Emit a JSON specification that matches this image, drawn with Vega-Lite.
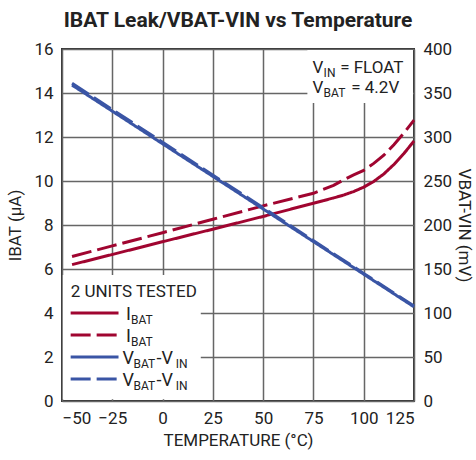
{
  "$schema": "https://vega.github.io/schema/vega-lite/v6.json",
  "width": 352,
  "height": 352,
  "autosize": {"type": "none"},
  "padding": {"left": 62, "top": 49, "right": 62, "bottom": 59},
  "title": {
    "text": "IBAT Leak/VBAT-VIN vs Temperature",
    "fontSize": 21,
    "fontWeight": "bold",
    "color": "#222",
    "anchor": "middle",
    "offset": 9
  },
  "data": {
    "values": [
      {"temp": -45, "value": 6.2, "series": "IBAT unit1", "q": "I"},
      {"temp": -25, "value": 6.66, "series": "IBAT unit1", "q": "I"},
      {"temp": 0, "value": 7.24, "series": "IBAT unit1", "q": "I"},
      {"temp": 25, "value": 7.81, "series": "IBAT unit1", "q": "I"},
      {"temp": 50, "value": 8.39, "series": "IBAT unit1", "q": "I"},
      {"temp": 75, "value": 8.99, "series": "IBAT unit1", "q": "I"},
      {"temp": 80, "value": 9.11, "series": "IBAT unit1", "q": "I"},
      {"temp": 85, "value": 9.23, "series": "IBAT unit1", "q": "I"},
      {"temp": 90, "value": 9.36, "series": "IBAT unit1", "q": "I"},
      {"temp": 95, "value": 9.52, "series": "IBAT unit1", "q": "I"},
      {"temp": 100, "value": 9.72, "series": "IBAT unit1", "q": "I"},
      {"temp": 105, "value": 9.98, "series": "IBAT unit1", "q": "I"},
      {"temp": 110, "value": 10.32, "series": "IBAT unit1", "q": "I"},
      {"temp": 115, "value": 10.75, "series": "IBAT unit1", "q": "I"},
      {"temp": 120, "value": 11.25, "series": "IBAT unit1", "q": "I"},
      {"temp": 125, "value": 11.82, "series": "IBAT unit1", "q": "I"},
      {"temp": -45, "value": 6.57, "series": "IBAT unit2", "q": "I"},
      {"temp": -25, "value": 7.05, "series": "IBAT unit2", "q": "I"},
      {"temp": 0, "value": 7.65, "series": "IBAT unit2", "q": "I"},
      {"temp": 25, "value": 8.26, "series": "IBAT unit2", "q": "I"},
      {"temp": 50, "value": 8.87, "series": "IBAT unit2", "q": "I"},
      {"temp": 75, "value": 9.44, "series": "IBAT unit2", "q": "I"},
      {"temp": 85, "value": 9.8, "series": "IBAT unit2", "q": "I"},
      {"temp": 90, "value": 10.05, "series": "IBAT unit2", "q": "I"},
      {"temp": 95, "value": 10.28, "series": "IBAT unit2", "q": "I"},
      {"temp": 100, "value": 10.48, "series": "IBAT unit2", "q": "I"},
      {"temp": 105, "value": 10.8, "series": "IBAT unit2", "q": "I"},
      {"temp": 110, "value": 11.17, "series": "IBAT unit2", "q": "I"},
      {"temp": 115, "value": 11.65, "series": "IBAT unit2", "q": "I"},
      {"temp": 120, "value": 12.18, "series": "IBAT unit2", "q": "I"},
      {"temp": 125, "value": 12.77, "series": "IBAT unit2", "q": "I"},
      {"temp": -45, "value": 359, "series": "VBAT-VIN unit1", "q": "V"},
      {"temp": 0, "value": 292.3, "series": "VBAT-VIN unit1", "q": "V"},
      {"temp": 50, "value": 218.2, "series": "VBAT-VIN unit1", "q": "V"},
      {"temp": 100, "value": 144.1, "series": "VBAT-VIN unit1", "q": "V"},
      {"temp": 125, "value": 107, "series": "VBAT-VIN unit1", "q": "V"},
      {"temp": -45, "value": 361, "series": "VBAT-VIN unit2", "q": "V"},
      {"temp": 0, "value": 294, "series": "VBAT-VIN unit2", "q": "V"},
      {"temp": 50, "value": 219.5, "series": "VBAT-VIN unit2", "q": "V"},
      {"temp": 100, "value": 145, "series": "VBAT-VIN unit2", "q": "V"},
      {"temp": 125, "value": 108, "series": "VBAT-VIN unit2", "q": "V"}
    ]
  },
  "layer": [
    {
      "layer": [
        {
          "transform": [{"filter": "datum.q == 'I'"}],
          "mark": {"type": "line", "strokeWidth": 3},
          "encoding": {
            "x": {
              "field": "temp",
              "type": "quantitative",
              "scale": {"domain": [-50, 125], "nice": false},
              "axis": {
                "title": "TEMPERATURE (°C)",
                "values": [-50, -25, 0, 25, 50, 75, 100, 125],
                "labelExpr": "replace(datum.label, '-', '–')",
                "labelPadding": 9,
                "titlePadding": 6,
                "grid": true
              }
            },
            "y": {
              "field": "value",
              "type": "quantitative",
              "scale": {"domain": [0, 16], "nice": false},
              "axis": {
                "title": "IBAT (µA)",
                "values": [0, 2, 4, 6, 8, 10, 12, 14, 16],
                "grid": true,
                "labelPadding": 9,
                "titlePadding": 9
              }
            },
            "color": {
              "field": "series", "type": "nominal", "legend": null,
              "scale": {"domain": ["IBAT unit1", "IBAT unit2", "VBAT-VIN unit1", "VBAT-VIN unit2"], "range": ["#a00530", "#a00530", "#3a55a5", "#3a55a5"]}
            },
            "strokeDash": {
              "field": "series", "type": "nominal", "legend": null,
              "scale": {"domain": ["IBAT unit1", "IBAT unit2", "VBAT-VIN unit1", "VBAT-VIN unit2"], "range": [[1, 0], [20, 6], [1, 0], [20, 6]]}
            }
          }
        },
        {
          "transform": [{"filter": "datum.temp == -45 && datum.series == 'IBAT unit1'"}],
          "mark": {"type": "rect", "fill": "white"},
          "encoding": {"x": {"datum": 72}, "x2": {"datum": 124.5}, "y": {"datum": 13.55}, "y2": {"datum": 15.95}}
        },
        {
          "transform": [{"filter": "datum.temp == -45 && datum.series == 'IBAT unit1'"}],
          "mark": {"type": "text", "text": ["V", "V"], "lineHeight": 20, "align": "left", "baseline": "alphabetic", "fontSize": 17, "color": "#222"},
          "encoding": {"x": {"datum": 74.6}, "y": {"datum": 14.9}}
        },
        {
          "transform": [{"filter": "datum.temp == -45 && datum.series == 'IBAT unit1'"}],
          "mark": {"type": "text", "text": ["IN", "BAT"], "lineHeight": 20, "align": "left", "baseline": "alphabetic", "fontSize": 12, "color": "#222", "dx": 11, "dy": 4},
          "encoding": {"x": {"datum": 74.6}, "y": {"datum": 14.9}}
        },
        {
          "transform": [{"filter": "datum.temp == -45 && datum.series == 'IBAT unit1'"}],
          "mark": {"type": "text", "text": "= FLOAT", "align": "left", "baseline": "alphabetic", "fontSize": 17, "color": "#222"},
          "encoding": {"x": {"datum": 88.3}, "y": {"datum": 14.9}}
        },
        {
          "transform": [{"filter": "datum.temp == -45 && datum.series == 'IBAT unit1'"}],
          "mark": {"type": "text", "text": "= 4.2V", "align": "left", "baseline": "alphabetic", "fontSize": 17, "color": "#222"},
          "encoding": {"x": {"datum": 93.8}, "y": {"datum": 13.99}}
        },
        {
          "transform": [{"filter": "datum.temp == -45 && datum.series == 'IBAT unit1'"}],
          "mark": {"type": "rect", "fill": "white"},
          "encoding": {"x": {"datum": -49.6}, "x2": {"datum": 19}, "y": {"datum": 0.08}, "y2": {"datum": 5.73}}
        },
        {
          "transform": [{"filter": "datum.temp == -45 && datum.series == 'IBAT unit1'"}],
          "mark": {"type": "text", "text": "2 UNITS TESTED", "align": "left", "baseline": "alphabetic", "fontSize": 17, "color": "#222"},
          "encoding": {"x": {"datum": -45.7}, "y": {"datum": 4.74}}
        },
        {
          "transform": [{"filter": "datum.temp == -45 && datum.series == 'IBAT unit1'"}],
          "mark": {"type": "rule", "strokeWidth": 3, "color": "#a00530"},
          "encoding": {"x": {"datum": -45.7}, "x2": {"datum": -21.9}, "y": {"datum": 4}}
        },
        {
          "transform": [{"filter": "datum.temp == -45 && datum.series == 'IBAT unit1'"}],
          "mark": {"type": "rule", "strokeWidth": 3, "color": "#a00530", "strokeDash": [20, 6]},
          "encoding": {"x": {"datum": -45.7}, "x2": {"datum": -21.9}, "y": {"datum": 3}}
        },
        {
          "transform": [{"filter": "datum.temp == -45 && datum.series == 'IBAT unit1'"}],
          "mark": {"type": "rule", "strokeWidth": 3, "color": "#3a55a5"},
          "encoding": {"x": {"datum": -45.7}, "x2": {"datum": -21.9}, "y": {"datum": 2}}
        },
        {
          "transform": [{"filter": "datum.temp == -45 && datum.series == 'IBAT unit1'"}],
          "mark": {"type": "rule", "strokeWidth": 3, "color": "#3a55a5", "strokeDash": [20, 6]},
          "encoding": {"x": {"datum": -45.7}, "x2": {"datum": -21.9}, "y": {"datum": 1}}
        },
        {
          "transform": [{"filter": "datum.temp == -45 && datum.series == 'IBAT unit1'"}],
          "mark": {"type": "text", "text": ["I", "I"], "lineHeight": 22, "align": "left", "baseline": "alphabetic", "fontSize": 18, "color": "#222"},
          "encoding": {"x": {"datum": -18.2}, "y": {"datum": 3.68}}
        },
        {
          "transform": [{"filter": "datum.temp == -45 && datum.series == 'IBAT unit1'"}],
          "mark": {"type": "text", "text": ["BAT", "BAT"], "lineHeight": 22, "align": "left", "baseline": "alphabetic", "fontSize": 12, "color": "#222", "dx": 5, "dy": 4},
          "encoding": {"x": {"datum": -18.2}, "y": {"datum": 3.68}}
        },
        {
          "transform": [{"filter": "datum.temp == -45 && datum.series == 'IBAT unit1'"}],
          "mark": {"type": "text", "text": ["V", "V"], "lineHeight": 22, "align": "left", "baseline": "alphabetic", "fontSize": 18, "color": "#222"},
          "encoding": {"x": {"datum": -19.9}, "y": {"datum": 1.68}}
        },
        {
          "transform": [{"filter": "datum.temp == -45 && datum.series == 'IBAT unit1'"}],
          "mark": {"type": "text", "text": ["BAT", "BAT"], "lineHeight": 22, "align": "left", "baseline": "alphabetic", "fontSize": 12, "color": "#222", "dx": 11, "dy": 4},
          "encoding": {"x": {"datum": -19.9}, "y": {"datum": 1.68}}
        },
        {
          "transform": [{"filter": "datum.temp == -45 && datum.series == 'IBAT unit1'"}],
          "mark": {"type": "text", "text": ["-V", "-V"], "lineHeight": 22, "align": "left", "baseline": "alphabetic", "fontSize": 18, "color": "#222"},
          "encoding": {"x": {"datum": -3.0}, "y": {"datum": 1.68}}
        },
        {
          "transform": [{"filter": "datum.temp == -45 && datum.series == 'IBAT unit1'"}],
          "mark": {"type": "text", "text": ["IN", "IN"], "lineHeight": 22, "align": "left", "baseline": "alphabetic", "fontSize": 12, "color": "#222", "dy": 4},
          "encoding": {"x": {"datum": 6.6}, "y": {"datum": 1.68}}
        }
      ]
    },
    {
      "transform": [{"filter": "datum.q == 'V'"}],
      "mark": {"type": "line", "strokeWidth": 3},
      "encoding": {
        "x": {"field": "temp", "type": "quantitative"},
        "y": {
          "field": "value",
          "type": "quantitative",
          "scale": {"domain": [0, 400], "nice": false},
          "axis": {
            "title": "VBAT-VIN (mV)",
            "orient": "right",
            "values": [0, 50, 100, 150, 200, 250, 300, 350, 400],
            "grid": false,
            "labelPadding": 9,
            "titlePadding": 3
          }
        },
        "color": {"field": "series", "type": "nominal", "legend": null},
        "strokeDash": {"field": "series", "type": "nominal", "legend": null}
      }
    }
  ],
  "resolve": {"scale": {"y": "independent"}},
  "config": {
    "font": "Roboto",
    "view": {"stroke": "#333", "strokeWidth": 2},
    "axis": {
      "labelFontSize": 17,
      "titleFontSize": 17,
      "labelColor": "#222",
      "titleColor": "#222",
      "titleFontWeight": "normal",
      "domain": false,
      "ticks": false,
      "gridColor": "#666",
      "gridWidth": 1.5,
      "gridOpacity": 1
    }
  }
}
